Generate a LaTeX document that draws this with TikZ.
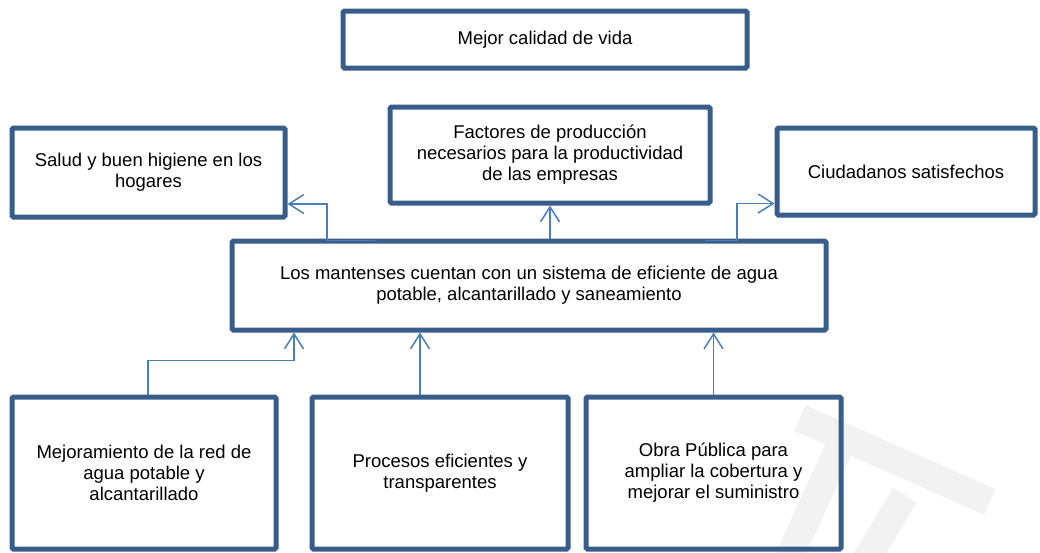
\documentclass[tikz,border=0pt]{standalone}
\usepackage{fontspec}
\setmainfont{Liberation Sans}
\usetikzlibrary{arrows.meta,calc}
\definecolor{boxblue}{HTML}{385D8A}
\definecolor{connblue}{HTML}{4A7EBB}
\definecolor{wmgray}{HTML}{F2F2F2}
\tikzset{
  box/.style={draw=boxblue, line width=5pt, rounded corners=1.5pt, rectangle,
    inner sep=0pt, align=center, text=black,
    font=\fontsize{18.5}{21}\selectfont},
  conn/.style={draw=connblue, line width=1.5pt,
    -{Straight Barb[length=15pt,width=19pt]}},
  wm/.style={draw=wmgray, line width=28pt, line cap=butt}
}
\begin{document}
\begin{tikzpicture}[x=1pt,y=-1pt]
\useasboundingbox (0,0) rectangle (1040,552);
% faint watermark
\draw[wm] (800,418) -- (990,502);
\draw[wm] (905,495) -- (866,560);
\draw[wm] (848,428) -- (788,560);
% boxes
\node[box, minimum width=404pt, minimum height=57pt] (vida) at (545,39.5) {Mejor calidad de vida};
\node[box, minimum width=273pt, minimum height=89pt] (salud) at (148.5,172.5) {Salud y buen higiene en los\\hogares};
\node[box, minimum width=320pt, minimum height=96pt] (fac) at (550,155) {Factores de producción\\necesarios para la productividad\\de las empresas};
\node[box, minimum width=258pt, minimum height=87pt] (ciud) at (906,171.5) {Ciudadanos satisfechos};
\node[box, minimum width=594pt, minimum height=89pt] (main) at (529,285.5) {Los mantenses cuentan con un sistema de eficiente de agua\\potable, alcantarillado y saneamiento};
\node[box, minimum width=264pt, minimum height=152pt] (mej) at (144,473) {Mejoramiento de la red de\\agua potable y\\alcantarillado};
\node[box, minimum width=256pt, minimum height=152pt] (proc) at (440,473) {Procesos eficientes y\\transparentes};
\node[box, minimum width=255pt, minimum height=152pt] (obra) at (713.5,473) {Obra Pública para\\ampliar la cobertura y\\mejorar el suministro};
% connectors
\coordinate (c1s) at (376,240.5);
\draw[conn] (c1s) -- ++(-49,0) -- ++(0,-36.5) coordinate (c1b) -- (c1b -| salud.east);
\draw[conn] (main.north -| fac.south) -- (fac.south);
\coordinate (c3s) at (705,240.5);
\draw[conn] (c3s) -- ++(32,0) -- ++(0,-37) coordinate (c3b) -- (c3b -| ciud.west);
\coordinate (c4s) at ([xshift=4pt]mej.north);
\coordinate (c4e) at ([xshift=-235pt]main.south);
\draw[conn] (c4s) -- ++(0,-34) -| (c4e);
\coordinate (c5s) at ([xshift=-20pt]proc.north);
\draw[conn] (c5s) -- (c5s |- main.south);
\draw[conn] (obra.north) -- (obra.north |- main.south);
\end{tikzpicture}
\end{document}
